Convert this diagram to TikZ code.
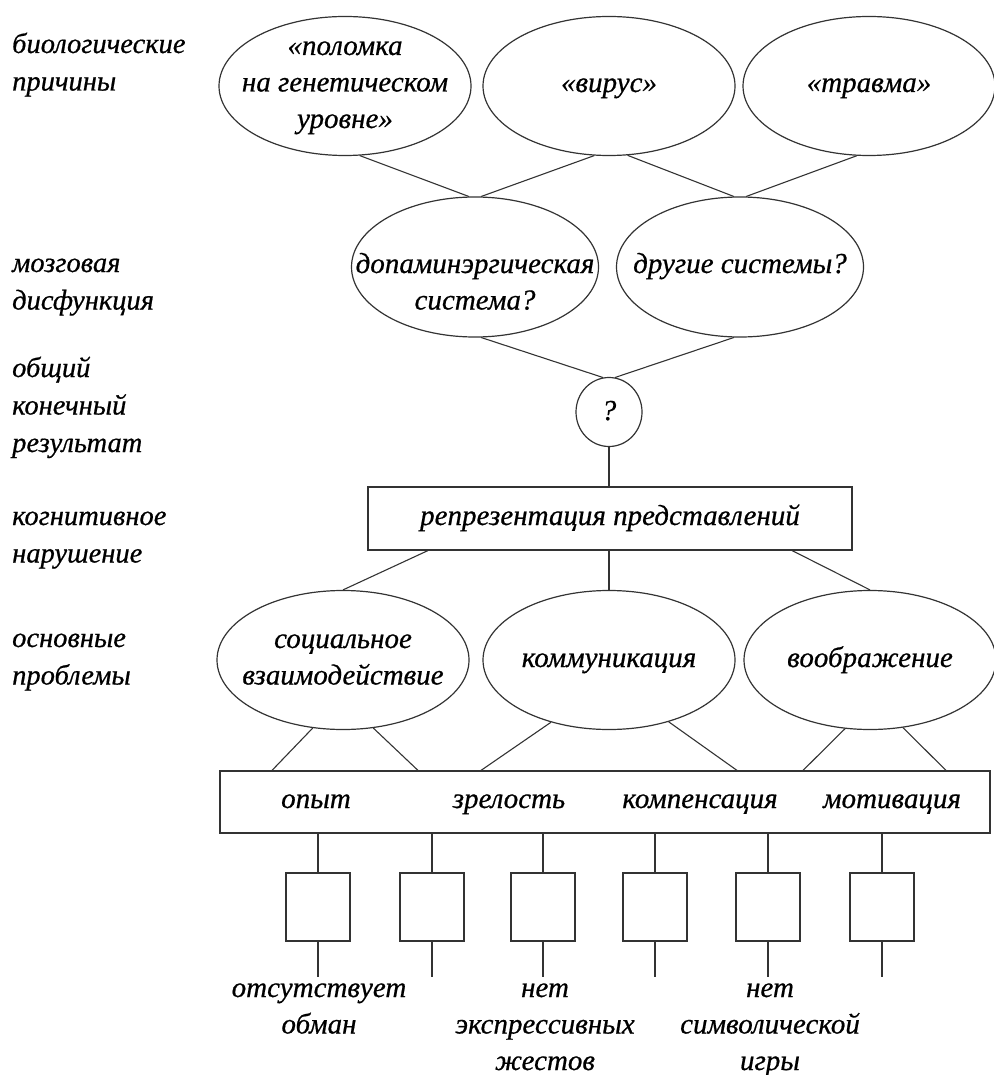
\documentclass[tikz,border=0pt]{standalone}
\usepackage{fontspec}
\setmainfont[ItalicFeatures={FakeBold=0.6}]{Liberation Serif}
\usetikzlibrary{shapes.geometric,calc}
\newcommand\tlines[1]{\begin{tabular}[t]{@{}l@{}}#1\end{tabular}}
\newcommand\clines[1]{\begin{tabular}[t]{@{}c@{}}#1\end{tabular}}
\begin{document}
\begin{tikzpicture}[x=1pt,y=-1pt,
  ln/.style={line width=1.1pt, draw=black!80},
  shp/.style={draw=black!80, line width=1.2pt, inner sep=0pt},
  ellA/.style={shp, ellipse, minimum width=252pt, minimum height=139pt},
  ellB/.style={shp, ellipse, minimum width=247pt, minimum height=140pt},
  boxr/.style={shp, rectangle},
  txt/.style={inner sep=0pt, anchor=base, font=\fontsize{29}{36.5}\selectfont\itshape},
  lab/.style={inner sep=0pt, anchor=base west, font=\fontsize{28.5}{37.5}\selectfont\itshape}]
\useasboundingbox (0,0) rectangle (993,1075);

% left-hand level labels
\node[lab] (L1) at (12,53)  {\tlines{биологические\\причины}};
\node[lab] (L2) at (12,272) {\tlines{мозговая\\дисфункция}};
\node[lab] (L3) at (12,377) {\tlines{общий\\конечный\\результат}};
\node[lab] (L4) at (12,525) {\tlines{когнитивное\\нарушение}};
\node[lab] (L5) at (12,647) {\tlines{основные\\проблемы}};

% biological causes
\node[ellA] (e1) at (345,86) {};
\node[ellA] (e2) at (609,86) {};
\node[ellA] (e3) at (869,86) {};
\node[txt] (t1) at (345,55) {\clines{«поломка\\на генетическом\\уровне»}};
\node[txt] (t2) at (609,92) {«вирус»};
\node[txt] (t3) at (869,92) {«травма»};

% brain dysfunction
\node[ellB] (d1) at (475,267) {};
\node[ellB] (d2) at (740,267) {};
\node[txt] (td1) at (475,273) {\clines{допаминэргическая\\система?}};
\node[txt] (td2) at (740,273) {другие системы?};

% final common pathway
\node[shp, ellipse, minimum width=66pt, minimum height=69pt] (q) at (609,412) {};
\node[txt] (tq) at (609,420) {?};

% cognitive deficit
\node[boxr, minimum width=484pt, minimum height=63pt] (r1) at (610,518.5) {};
\node[txt] (tr1) at (610,525) {репрезентация представлений};

% core problems
\node[ellA] (s)  at (343,660) {};
\node[ellA] (c)  at (609,660) {};
\node[ellA] (im) at (870,660) {};
\node[txt] (ts) at (343,648) {\clines{социальное\\взаимодействие}};
\node[txt] (tc) at (609,667) {коммуникация};
\node[txt] (ti) at (870,667) {воображение};

% modifiers
\node[boxr, minimum width=770pt, minimum height=62pt] (r2) at (605,802) {};
\node[txt] (m1) at (316,808) {опыт};
\node[txt] (m2) at (509,808) {зрелость};
\node[txt] (m3) at (700,808) {компенсация};
\node[txt] (m4) at (892,808) {мотивация};

% small boxes
\foreach \i/\x in {1/318,2/432,3/543,4/655,5/768,6/882}{
  \node[boxr, minimum width=64pt, minimum height=68pt] (b\i) at (\x,907) {};
  \coordinate (f\i) at (\x,977);
  \draw[ln] (b\i.north |- r2.south) -- (b\i.north);
  \draw[ln] (b\i.south) -- (f\i);
}

% bottom labels
\node[txt] (n1) at (319,997) {\clines{отсутствует\\обман}};
\node[txt] (n2) at (545,997) {\clines{нет\\экспрессивных\\жестов}};
\node[txt] (n3) at (770,997) {\clines{нет\\символической\\игры}};

% connectors
\draw[ln] (e1.-78)  -- (d1.95);
\draw[ln] (e2.-102) -- (d1.85);
\draw[ln] (e2.-75)  -- (d2.95);
\draw[ln] (e3.-100) -- (d2.85);
\draw[ln] (d1.-85) -- (q.100);
\draw[ln] (d2.-95) -- (q.80);
\draw[ln] (q.south) -- (q.south |- r1.north);
\draw[ln] (r1.-170) -- (s.north);
\draw[ln] (c.north |- r1.south) -- (c.north);
\draw[ln] (r1.-10) -- (im.north);
\draw[ln] (s.-114)  -- ([xshift=-333pt]r2.north);
\draw[ln] (s.-66)   -- ([xshift=-187pt]r2.north);
\draw[ln] (c.-133)  -- ([xshift=-124pt]r2.north);
\draw[ln] (c.-46)   -- ([xshift=132pt]r2.north);
\draw[ln] (im.-110) -- ([xshift=198pt]r2.north);
\draw[ln] (im.-64)  -- ([xshift=341pt]r2.north);
\end{tikzpicture}
\end{document}
